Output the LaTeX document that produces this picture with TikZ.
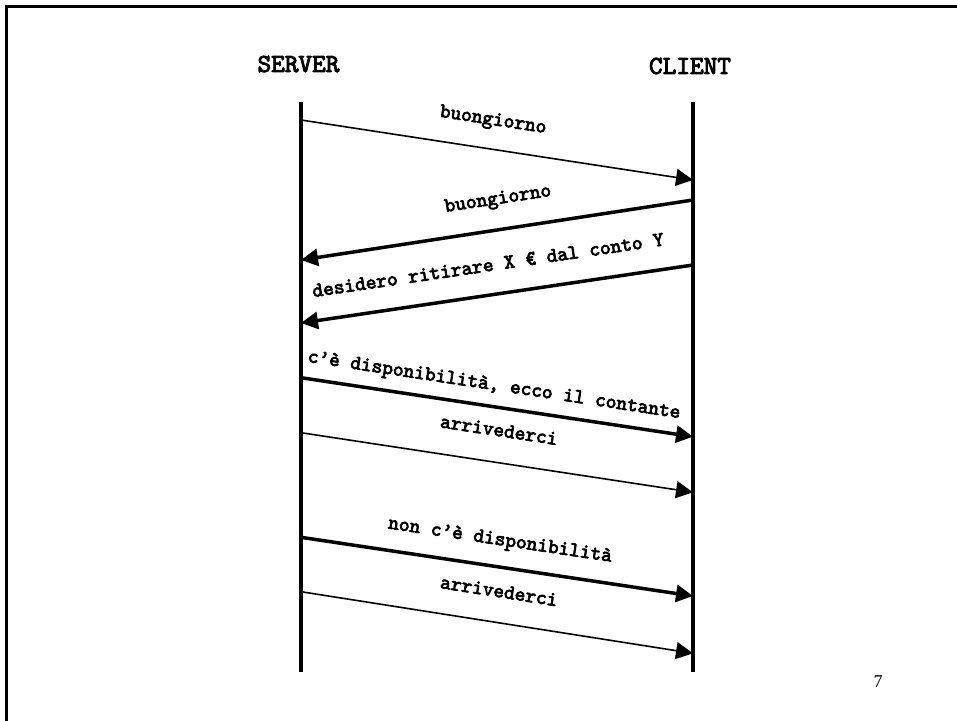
\documentclass[tikz,border=0pt]{standalone}
\usepackage{fontspec}
\setmainfont{Liberation Serif}
\newfontfamily\courbold[FakeBold=3.5]{lmmono10-regular.otf}
\usetikzlibrary{arrows.meta}
\tikzset{
  lifeline/.style={line width=3.5pt},
  thinmsg/.style={line width=1.6pt, -{Triangle[length=17pt,width=17pt]}},
  thickmsg/.style={line width=3.5pt, -{Triangle[length=17pt,width=17pt]}},
  actor/.style={font=\fontsize{26}{28}\selectfont\courbold, inner sep=0pt},
  msglabel/.style={font=\fontsize{20.5}{22}\selectfont\courbold, inner sep=0pt},
  frameline/.style={line width=3.3pt}
}
\begin{document}
\begin{tikzpicture}[x=1pt,y=-1pt]
\useasboundingbox (0,0) rectangle (957,720);
\clip (0,0) rectangle (957,720);
% frame
\draw[frameline] (6.7,730) -- (6.7,6.7) -- (970,6.7);
% actors
\node[actor] (server) at (298.5,64) {SERVER};
\node[actor] (client) at (690,66) {CLIENT};
% lifelines
\coordinate (sTop) at (301,102);
\coordinate (sBot) at (301,672);
\coordinate (cTop) at (693,102);
\coordinate (cBot) at (693,672);
\draw[lifeline] (sTop) -- (sBot);
\draw[lifeline] (cTop) -- (cBot);
% message endpoints
\coordinate (s1) at (301,120);   \coordinate (c1) at (693,180);
\coordinate (c2) at (693,200);   \coordinate (s2) at (301,260);
\coordinate (c3) at (693,265);   \coordinate (s3) at (301,323);
\coordinate (s4) at (301,377.7); \coordinate (c4) at (693,436.7);
\coordinate (s5) at (301,432.7); \coordinate (c5) at (693,492.3);
\coordinate (s6) at (301,537.3); \coordinate (c6) at (693,596);
\coordinate (s7) at (301,591.7); \coordinate (c7) at (693,653.3);
% messages
\draw[thinmsg]  (s1) -- (c1);
\draw[thickmsg] (c2) -- (s2);
\draw[thickmsg] (c3) -- (s3);
\draw[thickmsg] (s4) -- (c4);
\draw[thinmsg]  (s5) -- (c5);
\draw[thickmsg] (s6) -- (c6);
\draw[thinmsg]  (s7) -- (c7);
% labels
\node[msglabel, rotate=-8.7] (l1) at (493,121) {buongiorno};
\node[msglabel, rotate=8.7]  (l2) at (498,200) {buongiorno};
\node[msglabel, rotate=8.4]  (l3) at (488,265) {desidero ritirare X € dal conto Y};
\node[msglabel, rotate=-8.6] (l4) at (494,386) {c’è disponibilità, ecco il contante};
\node[msglabel, rotate=-8.65] (l5) at (499,430) {arrivederci};
\node[msglabel, rotate=-8.5] (l6) at (500,541) {non c’è disponibilità};
\node[msglabel, rotate=-8.9] (l7) at (499,591) {arrivederci};
% page number
\node[font=\fontsize{18}{20}\selectfont, inner sep=0pt] (page) at (878,682) {7};
\end{tikzpicture}
\end{document}
